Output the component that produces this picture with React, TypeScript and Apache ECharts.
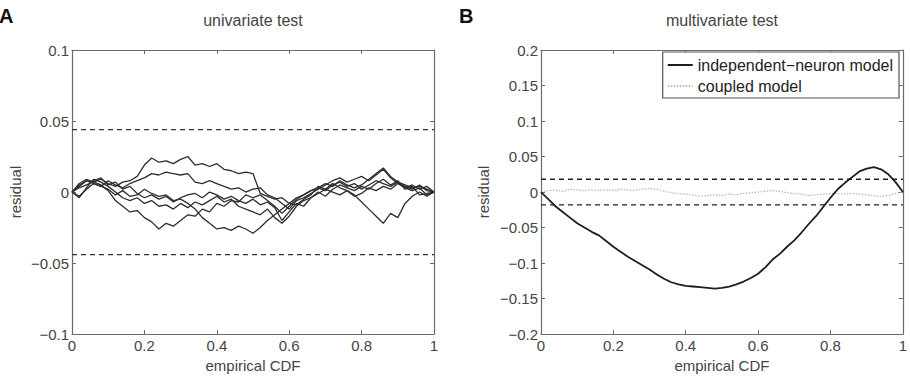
import React, { useEffect, useRef } from "react";
import * as echarts from "echarts";

// empirical CDF sample positions
const cdf = [
  0, 0.02, 0.04, 0.06, 0.08, 0.1, 0.12, 0.14, 0.16, 0.18, 0.2, 0.22, 0.24, 0.26, 0.28, 0.3, 0.32, 0.34,
  0.36, 0.38, 0.4, 0.42, 0.44, 0.46, 0.48, 0.5, 0.52, 0.54, 0.56, 0.58, 0.6, 0.62, 0.64, 0.66, 0.68,
  0.7, 0.72, 0.74, 0.76, 0.78, 0.8, 0.82, 0.84, 0.86, 0.88, 0.9, 0.92, 0.94, 0.96, 0.98, 1,
];

// Panel A: univariate residuals (six neurons)
const uniA = [
  0, 0.004, 0.008, 0.007, 0.009, 0.006, 0.004, 0.007, 0.008, 0.011, 0.019, 0.024, 0.021, 0.022, 0.02,
  0.023, 0.025, 0.019, 0.02, 0.018, 0.02, 0.016, 0.015, 0.013, 0.014, 0.013, -0.001, -0.003, -0.005,
  -0.004, -0.008, -0.004, -0.002, 0.001, 0.003, 0.001, 0.005, 0.007, 0.004, 0.006, 0.002, 0.005, 0.008,
  0.006, 0.004, 0.007, 0.005, 0.003, 0.004, 0.002, 0,
];
const uniB = [
  0, -0.003, 0.002, 0.006, 0.004, 0.008, 0.005, 0.003, 0.006, 0.008, 0.01, 0.013, 0.012, 0.014, 0.013,
  0.012, 0.013, 0.007, 0.006, 0.008, 0.006, 0.004, 0.002, 0.003, 0.0, 0.002, 0.003, -0.002, -0.004,
  -0.008, -0.012, -0.006, -0.004, -0.001, 0.002, 0.005, 0.008, 0.01, 0.007, 0.009, 0.011, 0.008, 0.012,
  0.016, 0.01, 0.006, 0.003, 0.005, 0.002, 0.004, 0,
];
const uniC = [
  0, 0.005, 0.008, 0.006, 0.004, 0.002, -0.002, 0.001, -0.003, -0.002, 0.002, -0.001, -0.003, -0.002,
  -0.006, -0.005, -0.008, -0.012, -0.018, -0.022, -0.026, -0.025, -0.027, -0.024, -0.026, -0.029, -0.025,
  -0.02, -0.016, -0.012, -0.008, -0.009, -0.005, -0.002, 0.004, 0.002, 0.006, 0.003, 0.001, -0.002,
  -0.007, -0.012, -0.017, -0.022, -0.015, -0.018, -0.008, -0.003, 0.0, -0.003, 0,
];
const uniD = [
  0, 0.006, 0.009, 0.007, 0.005, 0.001, -0.006, -0.01, -0.014, -0.013, -0.018, -0.021, -0.026, -0.022,
  -0.024, -0.02, -0.016, -0.017, -0.012, -0.014, -0.008, -0.01, -0.006, -0.007, -0.002, -0.004, -0.002,
  -0.006, -0.01, -0.015, -0.01, -0.005, -0.002, 0.001, 0.003, 0.006, 0.004, 0.008, 0.005, 0.003, 0.005,
  0.009, 0.013, 0.017, 0.011, 0.007, 0.004, 0.002, 0.005, 0.001, 0,
];
const uniE = [
  0, -0.004, 0.003, 0.009, 0.007, 0.004, 0.0, -0.004, -0.006, -0.004, -0.008, -0.006, -0.01, -0.009,
  -0.012, -0.008, -0.011, -0.007, -0.009, -0.006, -0.003, -0.007, -0.005, -0.01, -0.012, -0.014, -0.016,
  -0.012, -0.018, -0.022, -0.017, -0.01, -0.006, -0.004, 0.0, -0.003, 0.002, 0.005, 0.003, 0.001, 0.004,
  0.002, 0.006, 0.009, 0.005, 0.008, 0.002, 0.004, -0.002, -0.001, 0,
];
const uniF = [
  0, 0.003, 0.005, 0.008, 0.01, 0.005, 0.007, 0.002, 0.004, -0.001, -0.004, -0.002, -0.005, -0.003,
  -0.007, -0.004, -0.002, -0.001, -0.004, 0.0, -0.002, -0.005, -0.003, -0.006, -0.008, -0.005, -0.009,
  -0.007, -0.011, -0.02, -0.014, -0.008, -0.01, -0.004, -0.001, 0.002, 0.0, -0.002, 0.001, -0.003,
  -0.001, 0.003, 0.001, 0.004, 0.002, 0.006, 0.003, 0.001, 0.003, -0.002, 0,
];
const univariateSeries = [uniA, uniB, uniC, uniD, uniE, uniF];

// Panel B: multivariate residuals
const independentModel = [
  0, -0.01, -0.02, -0.028, -0.036, -0.044, -0.05, -0.056, -0.061, -0.069, -0.077, -0.084, -0.091, -0.097,
  -0.103, -0.109, -0.116, -0.122, -0.127, -0.13, -0.132, -0.133, -0.134, -0.135, -0.136, -0.135, -0.133,
  -0.13, -0.126, -0.121, -0.115, -0.106, -0.095, -0.087, -0.077, -0.068, -0.057, -0.045, -0.034, -0.021,
  -0.008, 0.004, 0.013, 0.021, 0.029, 0.033, 0.035, 0.032, 0.025, 0.014, 0,
];
const coupledModel = [
  0, 0.002, 0.003, 0.001, 0.004, 0.003, 0.002, 0.003, 0.002, 0.003, 0.002, 0.004, 0.003, 0.002, 0.004,
  0.005, 0.004, 0.001, -0.001, -0.002, -0.003, -0.004, -0.006, -0.005, -0.004, -0.005, -0.003, -0.004,
  -0.002, -0.001, 0.0, 0.001, 0.002, 0.001, -0.001, -0.002, -0.003, -0.005, -0.004, -0.003, -0.002,
  -0.002, -0.003, -0.002, -0.003, -0.004, -0.005, -0.006, -0.005, -0.002, 0,
];

// significance bounds
const univariateBound = [0.044, -0.044];
const multivariateBound = [0.018, -0.018];

const legendNames = ["independent\u2212neuron model", "coupled model"];
const titles = ["univariate test", "multivariate test"];
const panelLetters = ["A", "B"];

const FONT = "'Liberation Sans', Arial, Helvetica, sans-serif";
const AXIS_COLOR = "#6a6a6a";
const TEXT_COLOR = "#444";

const fmt = (v: number) => {
  const r = Number(v.toFixed(3));
  const s = String(Math.abs(r));
  return r < 0 ? "\u2212" + s : s;
};

const pairs = (ys: number[]) => ys.map((y, i) => [cdf[i], y]);

export default function App() {
  const ref = useRef<HTMLDivElement>(null);

  useEffect(() => {
    document.body.style.margin = "0";
    if (!ref.current) return;
    const chart = echarts.init(ref.current, null, { renderer: "svg" });

    const grids = [
      { left: 72, top: 50, width: 362, height: 290 },
      { left: 541, top: 50, width: 362, height: 290 },
    ];
    const yRanges = [
      { min: -0.1, max: 0.1, interval: 0.05 },
      { min: -0.2, max: 0.2, interval: 0.05 },
    ];

    const axisLine = { show: true, onZero: false, lineStyle: { color: AXIS_COLOR, width: 1.2 } };
    const tick = { show: true, inside: true, length: 4, lineStyle: { color: AXIS_COLOR } };
    const labelStyle = { color: TEXT_COLOR, fontSize: 15, fontFamily: FONT };

    const xAxis: any[] = [];
    const yAxis: any[] = [];
    grids.forEach((_, g) => {
      xAxis.push({
        type: "value",
        gridIndex: g,
        min: 0,
        max: 1,
        interval: 0.2,
        position: "bottom",
        axisLine,
        axisTick: tick,
        splitLine: { show: false },
        axisLabel: { ...labelStyle, margin: 4, formatter: fmt },
        name: "empirical CDF",
        nameLocation: "middle",
        nameGap: 20,
        nameTextStyle: { color: TEXT_COLOR, fontSize: 15, fontFamily: FONT },
      });
      xAxis.push({
        type: "value",
        gridIndex: g,
        min: 0,
        max: 1,
        interval: 0.2,
        position: "top",
        axisLine,
        axisTick: tick,
        splitLine: { show: false },
        axisLabel: { show: false },
      });
      yAxis.push({
        type: "value",
        gridIndex: g,
        ...yRanges[g],
        position: "left",
        axisLine,
        axisTick: tick,
        splitLine: { show: false },
        axisLabel: { ...labelStyle, margin: 3, formatter: fmt },
        name: "residual",
        nameLocation: "middle",
        nameGap: g === 0 ? 49 : 50,
        nameTextStyle: { color: TEXT_COLOR, fontSize: 15, fontFamily: FONT },
      });
      yAxis.push({
        type: "value",
        gridIndex: g,
        ...yRanges[g],
        position: "right",
        axisLine,
        axisTick: tick,
        splitLine: { show: false },
        axisLabel: { show: false },
      });
    });

    const series: any[] = [];
    univariateSeries.forEach((ys) => {
      series.push({
        type: "line",
        xAxisIndex: 0,
        yAxisIndex: 0,
        data: pairs(ys),
        symbol: "none",
        silent: true,
        lineStyle: { color: "#2e2e2e", width: 1.3 },
      });
    });
    univariateBound.forEach((b) => {
      series.push({
        type: "line",
        xAxisIndex: 0,
        yAxisIndex: 0,
        data: [
          [0, b],
          [1, b],
        ],
        symbol: "none",
        silent: true,
        lineStyle: { color: "#333", width: 1.3, type: [5, 4] },
      });
    });
    multivariateBound.forEach((b) => {
      series.push({
        type: "line",
        xAxisIndex: 2,
        yAxisIndex: 2,
        data: [
          [0, b],
          [1, b],
        ],
        symbol: "none",
        silent: true,
        lineStyle: { color: "#222", width: 1.3, type: [5, 4] },
      });
    });
    series.push({
      name: legendNames[1],
      type: "line",
      xAxisIndex: 2,
      yAxisIndex: 2,
      data: pairs(coupledModel),
      symbol: "none",
      color: "#b8b8b8",
      itemStyle: { color: "#b8b8b8" },
      lineStyle: { color: "#b8b8b8", width: 1.3, type: [1.5, 1.5] },
    });
    series.push({
      name: legendNames[0],
      type: "line",
      xAxisIndex: 2,
      yAxisIndex: 2,
      data: pairs(independentModel),
      symbol: "none",
      color: "#1e1e1e",
      itemStyle: { color: "#1e1e1e" },
      lineStyle: { color: "#1e1e1e", width: 1.8 },
    });

    const centers = grids.map((g) => g.left + g.width / 2);

    chart.setOption({
      animation: false,
      backgroundColor: "#fff",
      grid: grids,
      xAxis,
      yAxis,
      series,
      legend: {
        data: legendNames,
        orient: "vertical",
        right: 11,
        top: 52,
        padding: [5, 6, 4, 4],
        itemGap: 5,
        itemWidth: 25,
        itemHeight: 14,
        backgroundColor: "#fff",
        borderColor: "#555",
        borderWidth: 1.2,
        selectedMode: false,
        itemStyle: { opacity: 0 },
        textStyle: { color: "#222", fontSize: 16, fontFamily: FONT },
      },
      graphic: [
        ...titles.map((t, i) => ({
          type: "text",
          x: centers[i],
          y: 20,
          style: {
            text: t,
            fill: TEXT_COLOR,
            font: `16px ${FONT}`,
            textAlign: "center",
            textVerticalAlign: "middle",
          },
        })),
        ...panelLetters.map((t, i) => ({
          type: "text",
          x: i === 0 ? -1 : 459,
          y: 16,
          style: {
            text: t,
            fill: "#111",
            font: `bold 20px ${FONT}`,
            textAlign: "left",
            textVerticalAlign: "middle",
          },
        })),
      ],
    });

    return () => chart.dispose();
  }, []);

  return <div ref={ref} style={{ width: 910, height: 378 }} />;
}
